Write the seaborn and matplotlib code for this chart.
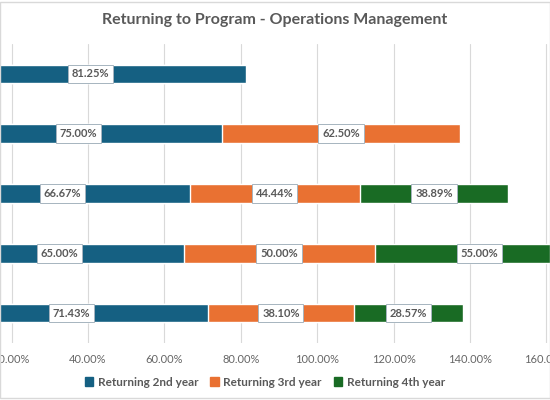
import numpy as np
import pandas as pd
import seaborn as sns
import matplotlib.pyplot as plt
from matplotlib.patches import Patch, Rectangle

cohorts = ["Cohort A", "Cohort B", "Cohort C", "Cohort D", "Cohort E"]
year2 = [81.25, 75.00, 66.67, 65.00, 71.43]
year3 = [0.0, 62.50, 44.44, 50.00, 38.10]
year4 = [0.0, 0.0, 38.89, 55.00, 28.57]
series_names = ["Returning 2nd year", "Returning 3rd year", "Returning 4th year"]
colors = ["#156082", "#E97132", "#196B24"]
ticks = [0, 20, 40, 60, 80, 100, 120, 140, 160, 180]

sns.set_theme(style="white")
plt.rcParams["font.family"] = ["Lato", "DejaVu Sans"]

df = pd.DataFrame({"cohort": cohorts, "y2": year2, "y3": year3, "y4": year4})
df["c2"] = df["y2"]
df["c3"] = df["y2"] + df["y3"]
df["c4"] = df["c3"] + df["y4"]

fig = plt.figure(figsize=(5.5, 4), dpi=100)
# plot area is wider than the visible picture (cropped chart)
ax = fig.add_axes([-64.8 / 550, 57 / 400, 687.6 / 550, 299 / 400])

# stacked bars: draw cumulative totals from longest to shortest
for col, c in zip(["c4", "c3", "c2"], colors[::-1]):
    sns.barplot(data=df, x=col, y="cohort", color=c, width=0.31,
                saturation=1, ax=ax, zorder=2)

# value labels
for i, row in df.iterrows():
    lefts = [0, row["c2"], row["c3"]]
    for left, val in zip(lefts, [row["y2"], row["y3"], row["y4"]]):
        if val <= 0:
            continue
        ax.text(left + val / 2, i, f"{val:.2f}%", ha="center", va="center",
                fontsize=8, color="#595959", fontweight="bold", zorder=4,
                bbox=dict(boxstyle="square,pad=0.35", fc="white",
                          ec="#A6B4BF", lw=0.7))

ax.set_xlim(0, 180)
ax.set_xticks(ticks)
ax.set_xticklabels([f"{t:.2f}%" for t in ticks], fontsize=8, color="#666666")
ax.grid(axis="x", color="#D9D9D9", lw=0.8, zorder=0)
ax.set_axisbelow(True)
ax.tick_params(axis="x", length=0, pad=8)
ax.set_yticks([])
ax.set_xlabel("")
ax.set_ylabel("")
for s in ax.spines.values():
    s.set_visible(False)

fig.text(274.6 / 550, 380 / 400, "Returning to Program - Operations Management",
         ha="center", va="center", fontsize=11.5, color="#595959",
         fontweight="bold")

handles = [Patch(color=c, label=n) for c, n in zip(colors, series_names)]
fig.legend(handles=handles, loc="center", bbox_to_anchor=(265 / 550, 18 / 400),
           ncol=3, frameon=False, fontsize=8.5, handlelength=0.7,
           handleheight=0.7, handletextpad=0.4, columnspacing=1.0,
           labelcolor="#595959", prop={"weight": "bold", "size": 8.5})

fig.patches.append(Rectangle((0, 0.004), 1, 0.992, transform=fig.transFigure,
                             fill=False, ec="#D9D9D9", lw=1))

fig.savefig("out.png", dpi=100)
